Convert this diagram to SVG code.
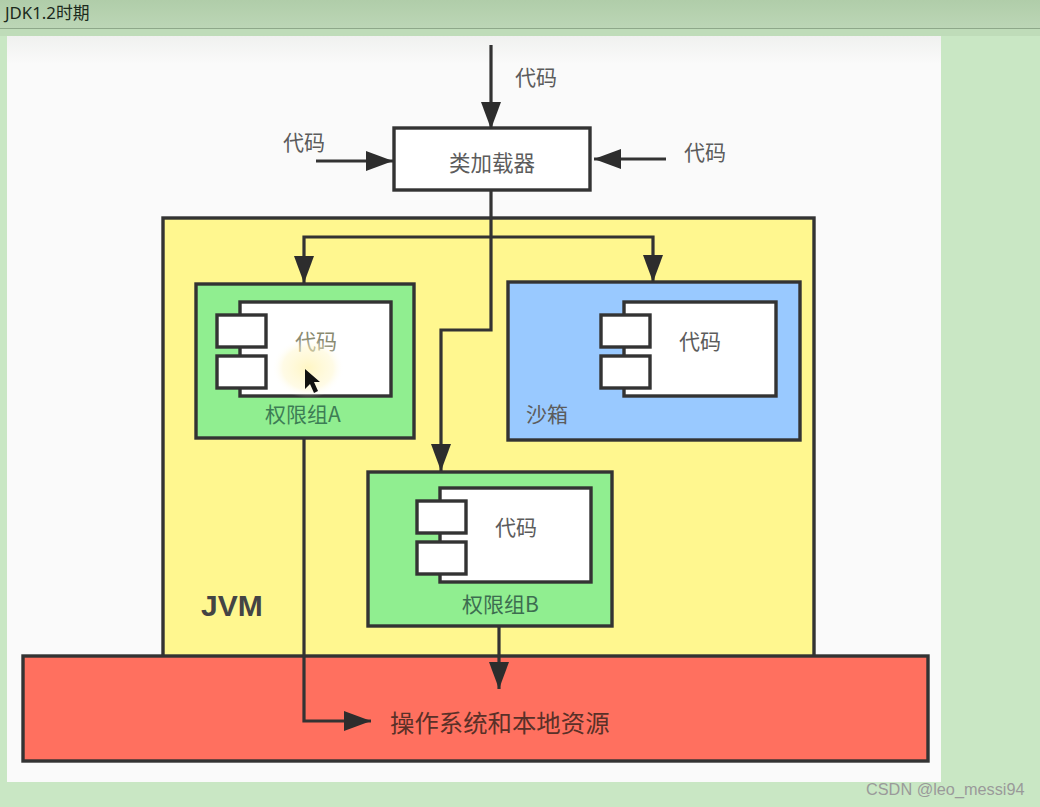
<svg xmlns="http://www.w3.org/2000/svg" width="1040" height="807" viewBox="0 0 1040 807">
<style>
.b{stroke:#333;stroke-width:3.4;}
.w{fill:#fff;}
.t{font-family:"Noto Sans CJK SC","Liberation Sans",sans-serif;font-size:21px;fill:#5c5c5c;}
.c{fill:none;stroke:#333;stroke-width:3.2;}
</style>
<defs>
<marker id="ah" markerUnits="userSpaceOnUse" markerWidth="30" markerHeight="22" refX="27" refY="10" orient="auto">
<path d="M0 0L27 10L0 20Z" fill="#2d2d2d"/>
</marker>
<linearGradient id="bar" x1="0" y1="0" x2="0" y2="1"><stop offset="0" stop-color="#b0cda9"/><stop offset="1" stop-color="#bcd6b6"/></linearGradient>
<linearGradient id="fade" x1="0" y1="0" x2="0" y2="1"><stop offset="0" stop-color="#f0f1ef"/><stop offset="1" stop-color="#fafafa"/></linearGradient>
<radialGradient id="glow"><stop offset="0" stop-color="#fff3b0" stop-opacity="0.75"/><stop offset="0.7" stop-color="#fff6c8" stop-opacity="0.45"/><stop offset="1" stop-color="#fff" stop-opacity="0"/></radialGradient>
</defs>
<g id="background">
<rect width="1040" height="807" fill="#c9e7c4"/>
<rect width="1040" height="28" fill="url(#bar)"/>
<rect y="28" width="1040" height="1" fill="#8ea88a"/>
<rect y="29" width="1040" height="7" fill="#bfdcb9"/>
<rect x="7" y="36" width="934" height="746" fill="#fafafa"/>
<rect x="7" y="36" width="934" height="28" fill="url(#fade)"/>
<text x="5" y="19" font-family="'Noto Sans','Noto Sans CJK SC',sans-serif" font-size="16.8" fill="#1c2a1c">JDK1.2时期</text>
</g>
<g id="jvm">
<rect class="b" x="163" y="218" width="651" height="450" fill="#fff78f"/>
<text x="201" y="616" font-family="'Liberation Sans',sans-serif" font-size="30" font-weight="bold" fill="#444">JVM</text>
</g>
<g id="os">
<rect class="b" x="23" y="656" width="905" height="105" fill="#ff705f"/>
<text class="t" x="390" y="732" style="font-size:24.4px;fill:#5a3028">操作系统和本地资源</text>
</g>
<g id="classloader">
<rect class="b w" x="394" y="128" width="196" height="62"/>
<text class="t" x="449" y="171" style="font-size:21.5px">类加载器</text>
</g>
<g id="groupA">
<rect class="b" x="196" y="284" width="218" height="154" fill="#90ee90"/>
<rect class="b w" x="240" y="302" width="151" height="94"/>
<rect class="b w" x="217" y="315" width="49" height="32"/>
<rect class="b w" x="217" y="356" width="49" height="32"/>
<text class="t" x="295" y="349" style="fill:#8a8a70">代码</text>
<text class="t" x="265" y="422" style="fill:#3d7d55">权限组A</text>
<ellipse cx="308" cy="368" rx="36" ry="30" fill="url(#glow)"/>
<path d="M305 369L305 389L310 384L314 393L318 391L314 382L320 382Z" fill="#111"/>
</g>
<g id="sandbox">
<rect class="b" x="508" y="282" width="292" height="158" fill="#99c9ff"/>
<rect class="b w" x="624" y="302" width="152" height="94"/>
<rect class="b w" x="601" y="315" width="49" height="32"/>
<rect class="b w" x="601" y="356" width="49" height="32"/>
<text class="t" x="679" y="349">代码</text>
<text class="t" x="526" y="422">沙箱</text>
</g>
<g id="groupB">
<rect class="b" x="368" y="472" width="244" height="154" fill="#90ee90"/>
<rect class="b w" x="440" y="488" width="151" height="94"/>
<rect class="b w" x="417" y="501" width="49" height="32"/>
<rect class="b w" x="417" y="542" width="49" height="32"/>
<text class="t" x="495" y="535">代码</text>
<text class="t" x="462" y="612" style="fill:#3d6d50">权限组B</text>
</g>
<g id="connectors">
<path class="c" d="M491 45V129" marker-end="url(#ah)"/>
<path class="c" d="M316 161H393" marker-end="url(#ah)"/>
<path class="c" d="M666 159H594" marker-end="url(#ah)"/>
<path class="c" d="M491 190V237"/>
<path class="c" d="M491 237H304V283" marker-end="url(#ah)"/>
<path class="c" d="M491 237H653V282" marker-end="url(#ah)"/>
<path class="c" d="M491 237V330H441V471" marker-end="url(#ah)"/>
<path class="c" d="M304 438V721H371" marker-end="url(#ah)"/>
<path class="c" d="M499 626V689" marker-end="url(#ah)"/>
</g>
<g id="labels">
<text class="t" x="515" y="85">代码</text>
<text class="t" x="283" y="150">代码</text>
<text class="t" x="684" y="160">代码</text>
<text x="866" y="795" font-family="'Liberation Sans',sans-serif" font-size="16.3" fill="#9a9a9a">CSDN @leo_messi94</text>
</g>
</svg>
